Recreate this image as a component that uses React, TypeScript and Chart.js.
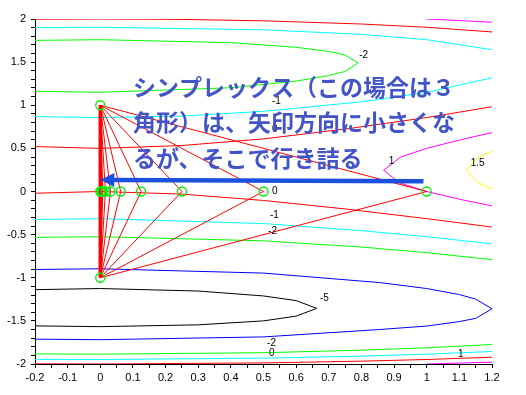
import { useEffect, useRef } from 'react';
import { Chart, registerables } from 'chart.js';
Chart.register(...registerables);

type P = [number, number];

// ---- contour lines, level 0 (red)
const C0_TOP: P[] = [[-0.2, 1.997], [0, 2.0], [0.25, 1.995], [0.5, 1.979], [0.8, 1.942], [1.0, 1.904], [1.2, 1.85]];
const C0_UPPER: P[] = [[-0.2, 0.521], [0, 0.5], [0.25, 0.533], [0.5, 0.61], [0.75, 0.724], [1.0, 0.857], [1.2, 0.983]];
const C0_LOWER: P[] = [[-0.2, -0.02], [0, 0], [0.25, -0.03], [0.5, -0.104], [0.75, -0.202], [1.0, -0.315], [1.2, -0.412]];
const C0_BOTTOM: P[] = [[-0.2, -1.998], [0, -2.0], [0.5, -1.9875], [0.8, -1.967], [1.0, -1.948], [1.2, -1.921]];
// level 1 (magenta)
const C1_MID: P[] = [[1.2, -0.166], [1.113, -0.1], [1.0, 0], [0.917, 0.1], [0.868, 0.246], [0.92, 0.4], [1.0, 0.5], [1.104, 0.6], [1.2, 0.683]];
const C1_TOP: P[] = [[1.0, 2.0], [1.1, 1.982], [1.2, 1.963]];
const C1_BOTTOM: P[] = [[1.0, -2.0], [1.1, -1.9895], [1.2, -1.978]];
// level 1.5 (yellow)
const C15_MID: P[] = [[1.2, 0.032], [1.158, 0.1], [1.12, 0.246], [1.16, 0.4], [1.2, 0.466]];
// level -1 (cyan)
const CM1_TOP: P[] = [[-0.2, 1.9], [0, 1.904], [0.5, 1.875], [0.8, 1.822], [1.0, 1.76], [1.2, 1.643]];
const CM1_UPPER: P[] = [[-0.2, 0.869], [0, 0.857], [0.25, 0.875], [0.5, 0.929], [0.8, 1.04], [1.0, 1.15], [1.2, 1.318]];
const CM1_LOWER: P[] = [[-0.2, -0.324], [0, -0.315], [0.5, -0.372], [0.8, -0.454], [1.0, -0.524], [1.2, -0.607]];
const CM1_BOTTOM: P[] = [[-0.2, -1.946], [0, -1.948], [0.5, -1.932], [0.8, -1.909], [1.0, -1.886], [1.2, -1.855]];
// level -2 (green)
const CM2_TOP: P[] = [[-0.2, 1.752], [0, 1.76], [0.4, 1.726], [0.6, 1.672], [0.7, 1.623], [0.75, 1.582], [0.79, 1.491], [0.75, 1.392], [0.7, 1.345], [0.6, 1.28], [0.4, 1.203], [0, 1.15], [-0.2, 1.162]];
const CM2_LOWER: P[] = [[-0.2, -0.532], [0, -0.524], [0.5, -0.572], [0.8, -0.644], [1.0, -0.709], [1.2, -0.79]];
const CM2_BOTTOM: P[] = [[-0.2, -1.883], [0, -1.886], [0.5, -1.869], [0.8, -1.84], [1.0, -1.812], [1.2, -1.774]];
// level -4 (blue)
const CM4_LOOP: P[] = [[-0.2, -0.904], [0, -0.896], [0.5, -0.946], [0.856, -1.056], [1.0, -1.125], [1.1, -1.195], [1.15, -1.248], [1.2, -1.36], [1.15, -1.471], [1.1, -1.508], [1.0, -1.56], [0.856, -1.6], [0.5, -1.686], [0, -1.718], [-0.2, -1.712]];
// level -5 (black)
const CM5_LOOP: P[] = [[-0.2, -1.138], [0, -1.125], [0.3, -1.154], [0.5, -1.211], [0.6, -1.265], [0.663, -1.355], [0.6, -1.445], [0.5, -1.5], [0.3, -1.546], [0, -1.567], [-0.2, -1.558]];

const CONTOURS: { pts: P[]; color: string }[] = [
  { pts: C0_TOP, color: '#ff0000' }, { pts: C0_UPPER, color: '#ff0000' },
  { pts: C0_LOWER, color: '#ff0000' }, { pts: C0_BOTTOM, color: '#ff0000' },
  { pts: C1_MID, color: '#ff00ff' }, { pts: C1_TOP, color: '#ff00ff' }, { pts: C1_BOTTOM, color: '#ff00ff' },
  { pts: C15_MID, color: '#ffff00' },
  { pts: CM1_TOP, color: '#00ffff' }, { pts: CM1_UPPER, color: '#00ffff' },
  { pts: CM1_LOWER, color: '#00ffff' }, { pts: CM1_BOTTOM, color: '#00ffff' },
  { pts: CM2_TOP, color: '#00ff00' }, { pts: CM2_LOWER, color: '#00ff00' }, { pts: CM2_BOTTOM, color: '#00ff00' },
  { pts: CM4_LOOP, color: '#0000ff' },
  { pts: CM5_LOOP, color: '#000000' },
];

// contour labels: text, x, y
const CONTOUR_LABELS: [string, number, number][] = [
  ['-2', 0.793, 1.575], ['-1', 0.526, 1.041], ['0', 0.526, 0.727], ['1', 0.884, 0.35],
  ['1.5', 1.135, 0.33], ['0', 0.526, -0.002], ['-1', 0.52, -0.27], ['-2', 0.514, -0.466],
  ['-5', 0.673, -1.243], ['-2', 0.511, -1.765], ['0', 0.517, -1.87], ['1', 1.096, -1.89],
];

// ---- simplex iterations
const FIXED_TOP: P = [0, 1];
const FIXED_BOTTOM: P = [0, -1];
const THIRD_VERTEX_X = [1, 0.5, 0.25, 0.125, 0.0625, 0.03125, 0.015625, 0.0078125, 0.00390625];
const MARKER_X = [1, 0.5, 0.25, 0.125, 0.0625, 0.03125, 0.015625, 0.0078125, 0.00390625, 0];

// ---- annotation
const ARROW_FROM: P = [0.99, 0.12];
const ARROW_TO: P = [0.0, 0.135];
const NOTE_LINES = ['シンプレックス（この場合は３', '角形）は、矢印方向に小さくな', 'るが、そこで行き詰る'];
const NOTE_ANCHOR: P = [0.1, 1.21];

const toXY = (p: P) => ({ x: p[0], y: p[1] });

const overlay = {
  id: 'overlay',
  afterDatasetsDraw(chart: any) {
    const { ctx, scales } = chart;
    const xs = scales.x, ys = scales.y;
    ctx.save();
    // contour labels
    ctx.fillStyle = '#000';
    ctx.font = '10px "Liberation Sans", Arial, sans-serif';
    ctx.textAlign = 'left';
    ctx.textBaseline = 'middle';
    for (const [t, x, y] of CONTOUR_LABELS) {
      ctx.fillText(t, xs.getPixelForValue(x), ys.getPixelForValue(y));
    }
    // arrow
    const x1 = xs.getPixelForValue(ARROW_FROM[0]);
    const y1 = ys.getPixelForValue(ARROW_FROM[1]);
    const x2 = xs.getPixelForValue(ARROW_TO[0]);
    const y2 = ys.getPixelForValue(ARROW_TO[1]);
    const ang = Math.atan2(y2 - y1, x2 - x1);
    const headLen = 14, headHalf = 7;
    const bx = x2 - headLen * Math.cos(ang), by = y2 - headLen * Math.sin(ang);
    ctx.strokeStyle = '#1a50dc';
    ctx.lineWidth = 4.5;
    ctx.beginPath();
    ctx.moveTo(x1, y1);
    ctx.lineTo(bx + 1 * Math.cos(ang), by + 1 * Math.sin(ang));
    ctx.stroke();
    ctx.fillStyle = '#1a50dc';
    ctx.beginPath();
    ctx.moveTo(x2, y2);
    ctx.lineTo(bx - headHalf * Math.sin(ang), by + headHalf * Math.cos(ang));
    ctx.lineTo(bx + headHalf * Math.sin(ang), by - headHalf * Math.cos(ang));
    ctx.closePath();
    ctx.fill();
    // note text
    ctx.fillStyle = '#4354c8';
    ctx.font = 'bold 23px "Noto Sans CJK JP", sans-serif';
    ctx.textBaseline = 'middle';
    const nx = xs.getPixelForValue(NOTE_ANCHOR[0]);
    const ny = ys.getPixelForValue(NOTE_ANCHOR[1]);
    NOTE_LINES.forEach((line, i) => ctx.fillText(line, nx, ny + i * 35.5));
    ctx.restore();
  },
};

export default function App() {
  const ref = useRef<HTMLCanvasElement>(null);
  useEffect(() => {
    document.body.style.margin = '0';
    const datasets: any[] = [];
    datasets.push({
      data: MARKER_X.map((x) => ({ x, y: 0 })).concat([toXY(FIXED_TOP), toXY(FIXED_BOTTOM)]),
      showLine: false,
      pointRadius: 4.5,
      pointBorderWidth: 1.3,
      pointBorderColor: '#00ee00',
      pointBackgroundColor: 'rgba(0,0,0,0)',
    });
    datasets.push({
      data: [toXY(FIXED_TOP), toXY(FIXED_BOTTOM)],
      showLine: true, pointRadius: 0, borderColor: '#ff0000', borderWidth: 3.5,
    });
    for (const xk of THIRD_VERTEX_X) {
      datasets.push({
        data: [toXY(FIXED_TOP), { x: xk, y: 0 }, toXY(FIXED_BOTTOM)],
        showLine: true, pointRadius: 0, borderColor: '#ff0000', borderWidth: 1,
      });
    }
    for (const c of CONTOURS) {
      datasets.push({
        data: c.pts.map(toXY),
        showLine: true, pointRadius: 0, borderColor: c.color, borderWidth: 1,
      });
    }
    const tickFont = { family: '"Liberation Sans", Arial, sans-serif', size: 11 };
    const chart = new Chart(ref.current as HTMLCanvasElement, {
      type: 'scatter',
      data: { datasets },
      plugins: [overlay],
      options: {
        animation: false,
        responsive: true,
        maintainAspectRatio: false,
        layout: { padding: { top: 19, right: 34, left: 0, bottom: 0 } },
        plugins: { legend: { display: false }, tooltip: { enabled: false } },
        elements: { line: { tension: 0 } },
        scales: {
          x: {
            type: 'linear', min: -0.2, max: 1.2,
            afterFit: (s: any) => { s.height = 31; },
            grid: { drawOnChartArea: false, drawTicks: true, tickLength: 4, color: '#000' },
            border: { display: true, color: '#000', width: 1 },
            ticks: {
              stepSize: 0.05, autoSkip: false, maxRotation: 0, padding: 3, color: '#000', font: tickFont,
              callback: (v: any) => { const r = Math.round(Number(v) * 100); return r % 10 === 0 ? String(r / 100) : ''; },
            },
          },
          y: {
            type: 'linear', min: -2, max: 2,
            afterFit: (s: any) => { s.width = 35; },
            grid: { drawOnChartArea: false, drawTicks: true, tickLength: 4, color: '#000' },
            border: { display: true, color: '#000', width: 1 },
            ticks: {
              stepSize: 0.1, autoSkip: false, padding: 5, color: '#000', font: tickFont,
              callback: (v: any) => { const r = Math.round(Number(v) * 10); return r % 5 === 0 ? String(r / 10) : ''; },
            },
          },
        },
      } as any,
    });
    return () => chart.destroy();
  }, []);
  return (
    <div style={{ position: 'relative', width: 526, height: 395, background: '#fff' }}>
      <canvas ref={ref} />
    </div>
  );
}
